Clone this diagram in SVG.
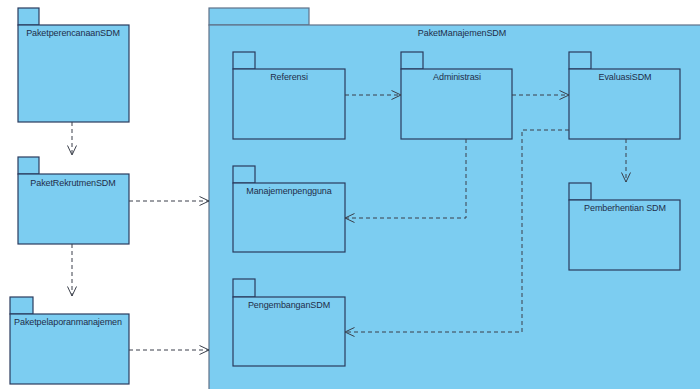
<svg xmlns="http://www.w3.org/2000/svg" width="700" height="389" viewBox="0 0 700 389">
  <style>
    .pkg { fill: #7ccdf1; stroke: #2a3b5e; stroke-width: 1.2; }
    .outer { fill: #7ccdf1; stroke: #5f7189; stroke-width: 1.2; }
    .lbl { font-family: "Liberation Sans", Arial, sans-serif; font-size: 9px; fill: #1f2d4a; text-anchor: middle; letter-spacing: -0.1px; }
    .dep { fill: none; stroke: #3a3f4a; stroke-width: 1; stroke-dasharray: 4 3; }
  </style>
  <defs>
    <marker id="open" markerUnits="userSpaceOnUse" markerWidth="14" markerHeight="14" refX="10" refY="5" orient="auto">
      <path d="M0.5,0.5 L10,5 L0.5,9.5" fill="none" stroke="#3a3f4a" stroke-width="1"/>
    </marker>
  </defs>
  <rect width="700" height="389" fill="#ffffff"/>

  <!-- container package -->
  <g id="PaketManajemenSDM">
    <rect class="outer" x="209" y="8" width="100" height="17"/>
    <rect class="outer" x="209" y="25" width="495" height="370"/>
    <text class="lbl" x="462" y="36">PaketManajemenSDM</text>
  </g>

  <!-- outer packages -->
  <g id="PaketperencanaanSDM">
    <rect class="pkg" x="18" y="8" width="21" height="17"/>
    <rect class="pkg" x="18" y="25" width="111" height="97"/>
    <text class="lbl" x="73" y="36">PaketperencanaanSDM</text>
  </g>
  <g id="PaketRekrutmenSDM">
    <rect class="pkg" x="18" y="157" width="21" height="17"/>
    <rect class="pkg" x="18" y="174" width="111" height="70"/>
    <text class="lbl" x="73" y="186">PaketRekrutmenSDM</text>
  </g>
  <g id="Paketpelaporanmanajemen">
    <rect class="pkg" x="10" y="297" width="23" height="17"/>
    <rect class="pkg" x="10" y="314" width="119" height="70"/>
    <text class="lbl" x="68" y="325">Paketpelaporanmanajemen</text>
  </g>

  <!-- inner packages -->
  <g id="Referensi">
    <rect class="pkg" x="233" y="52" width="22" height="17"/>
    <rect class="pkg" x="233" y="69" width="112" height="70"/>
    <text class="lbl" x="289" y="80">Referensi</text>
  </g>
  <g id="Administrasi">
    <rect class="pkg" x="401" y="52" width="22" height="17"/>
    <rect class="pkg" x="401" y="69" width="111" height="70"/>
    <text class="lbl" x="457" y="80">Administrasi</text>
  </g>
  <g id="EvaluasiSDM">
    <rect class="pkg" x="569" y="52" width="22" height="17"/>
    <rect class="pkg" x="569" y="69" width="111" height="70"/>
    <text class="lbl" x="625" y="80">EvaluasiSDM</text>
  </g>
  <g id="Manajemenpengguna">
    <rect class="pkg" x="233" y="166" width="22" height="17"/>
    <rect class="pkg" x="233" y="183" width="112" height="69"/>
    <text class="lbl" x="289" y="194">Manajemenpengguna</text>
  </g>
  <g id="PengembanganSDM">
    <rect class="pkg" x="233" y="279" width="22" height="18"/>
    <rect class="pkg" x="233" y="297" width="112" height="69"/>
    <text class="lbl" x="289" y="308">PengembanganSDM</text>
  </g>
  <g id="PemberhentianSDM">
    <rect class="pkg" x="569" y="183" width="22" height="17"/>
    <rect class="pkg" x="569" y="200" width="111" height="70"/>
    <text class="lbl" x="625" y="211">Pemberhentian SDM</text>
  </g>

  <!-- dependencies -->
  <g id="connectors">
    <path class="dep" d="M72,122 V155" marker-end="url(#open)"/>
    <path class="dep" d="M72,244 V296" marker-end="url(#open)"/>
    <path class="dep" d="M129,201 H209" marker-end="url(#open)"/>
    <path class="dep" d="M129,350 H209" marker-end="url(#open)"/>
    <path class="dep" d="M345,95 H401" marker-end="url(#open)"/>
    <path class="dep" d="M512,95 H569" marker-end="url(#open)"/>
    <path class="dep" d="M466,139 V218 H345" marker-end="url(#open)"/>
    <path class="dep" d="M569,130 H522 V332 H345" marker-end="url(#open)"/>
    <path class="dep" d="M626,139 V182" marker-end="url(#open)"/>
  </g>
</svg>
